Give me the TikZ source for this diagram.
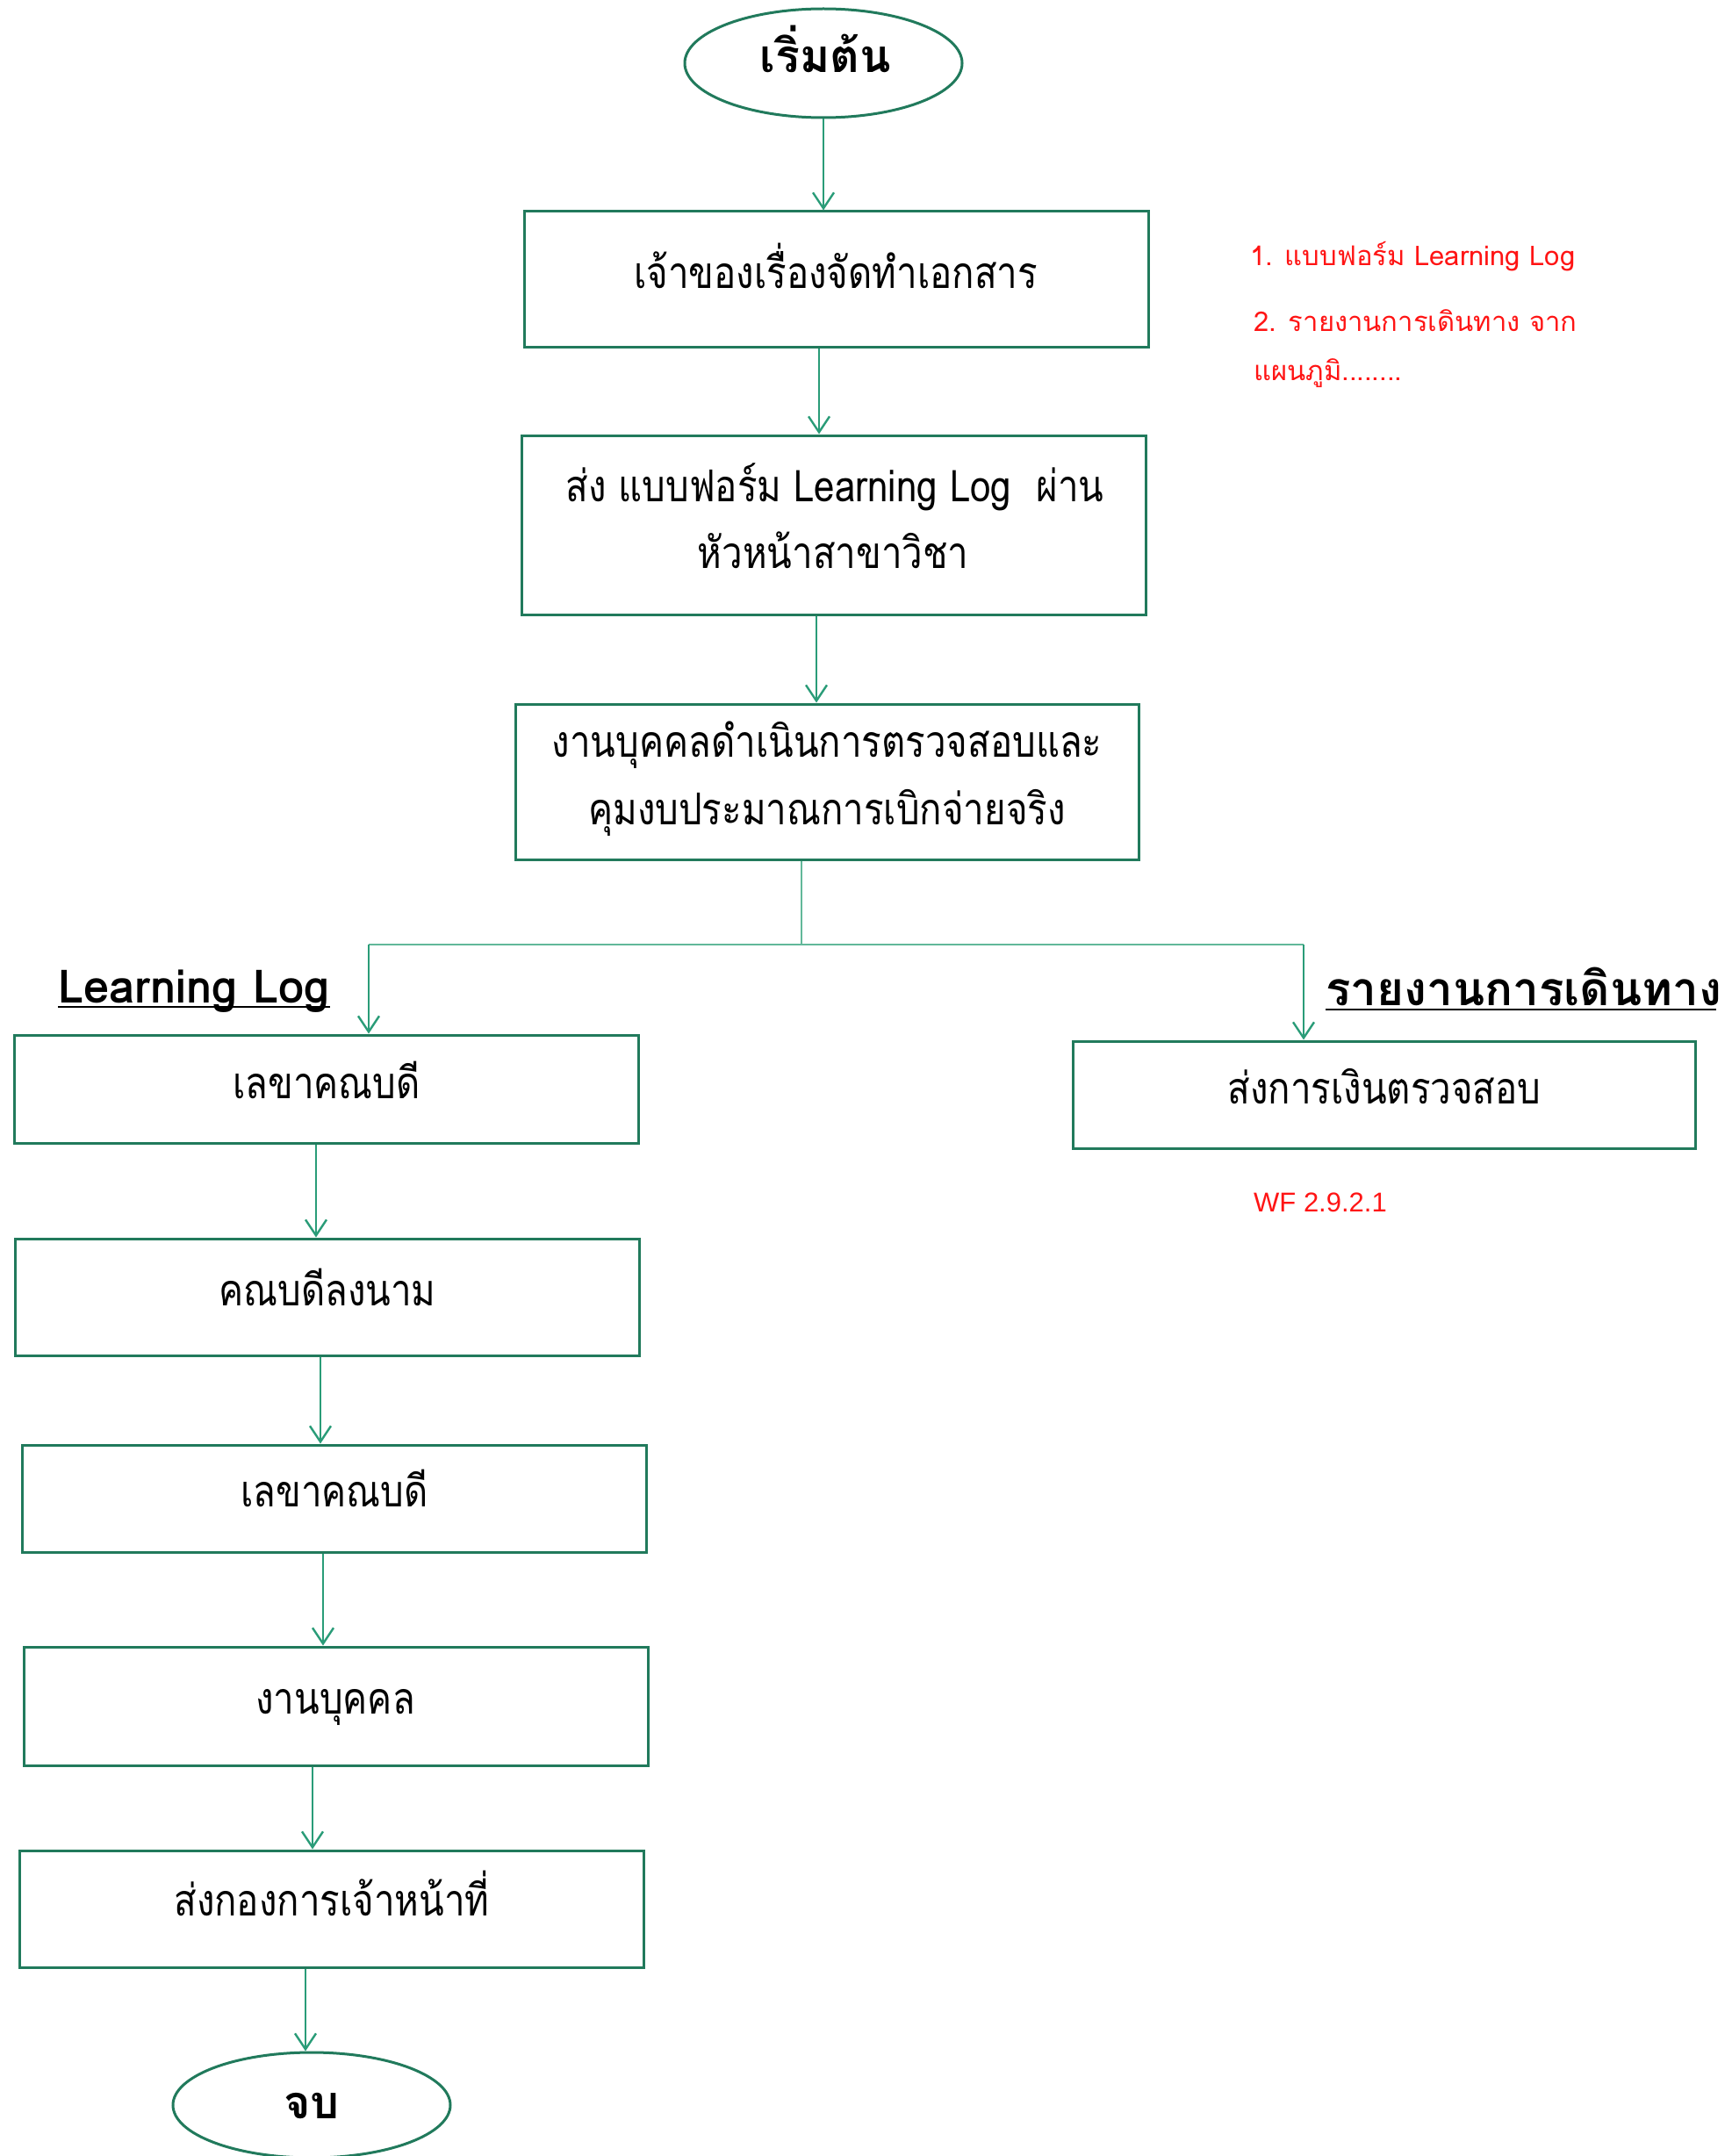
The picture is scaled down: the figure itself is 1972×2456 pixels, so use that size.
\documentclass[tikz,border=0pt]{standalone}
\usepackage{fontspec}
\usetikzlibrary{arrows.meta,shapes.geometric}
\newfontfamily\thaifont[Script=Thai,FakeStretch=0.84]{Loma}
\newfontfamily\thaiwide[Script=Thai]{Loma}
\newfontfamily\latinf{Liberation Sans}
\definecolor{boxc}{HTML}{217A5C}
\definecolor{arrc}{HTML}{2A9C78}
\definecolor{linec}{HTML}{62B89A}
\definecolor{notered}{HTML}{FF1414}
\tikzset{
  box/.style={draw=boxc, line width=3pt, minimum width=711pt, inner sep=0pt},
  boxtext/.style={anchor=base, inner sep=0pt, font=\thaifont\fontsize{50}{60}\selectfont},
  term/.style={ellipse, draw=boxc, line width=3pt, minimum width=316pt, minimum height=124pt, inner sep=0pt},
  termtext/.style={anchor=base, inner sep=0pt, font=\thaiwide\bfseries\fontsize{52}{60}\selectfont},
  arr/.style={draw=arrc, line width=2.4pt, -{Straight Barb[length=18pt,width=24pt,line width=2.4pt]}},
  joinline/.style={draw=linec, line width=1.8pt},
  note/.style={anchor=base west, inner sep=0pt, text=notered, font=\thaiwide\fontsize{31}{40}\selectfont},
  head/.style={anchor=base west, inner sep=0pt, text=black},
  uline/.style={draw=black, line width=2.6pt}
}
\begin{document}
\begin{tikzpicture}[x=1pt,y=-1pt]
\useasboundingbox (0,0) rectangle (1972,2456);
% main column
\node[term] (start) at (938,72) {};
\node[termtext] (startt) at (940,83) {เริ่มต้น};
\node[box, minimum height=154pt] (b1) at (952.5,318) {};
\node[boxtext] (b1t) at (952,328) {เจ้าของเรื่องจัดทำเอกสาร};
\node[box, minimum height=204pt] (b2) at (949.5,598) {};
\node[boxtext] (b2t) at (951,571) {ส่ง แบบฟอร์ม Learning Log\ \ ผ่าน};
\node[boxtext] (b2u) at (949,647) {หัวหน้าสาขาวิชา};
\node[box, minimum height=177pt, minimum width=710pt] (b3) at (942,890.5) {};
\node[boxtext] (b3t) at (942,862) {งานบุคคลดำเนินการตรวจสอบและ};
\node[boxtext] (b3u) at (942,939) {คุมงบประมาณการเบิกจ่ายจริง};
% left column
\node[box, minimum height=123pt] (l1) at (371.5,1240.5) {};
\node[boxtext] (l1t) at (372,1251) {เลขาคณบดี};
\node[box, minimum height=133pt] (l2) at (372.5,1477.5) {};
\node[boxtext] (l2t) at (373,1487) {คณบดีลงนาม};
\node[box, minimum height=122pt] (l3) at (380.5,1707) {};
\node[boxtext] (l3t) at (381,1716) {เลขาคณบดี};
\node[box, minimum height=135pt] (l4) at (382.5,1943.5) {};
\node[boxtext] (l4t) at (382,1952) {งานบุคคล};
\node[box, minimum height=133pt] (l5) at (377.5,2174.5) {};
\node[boxtext] (l5t) at (378,2182) {ส่งกองการเจ้าหน้าที่};
\node[term, minimum height=120pt] (end) at (355,2398) {};
\node[termtext] (endt) at (355,2413) {จบ};
% right column
\node[box, minimum height=122pt, minimum width=709pt] (r1) at (1576.5,1247) {};
\node[boxtext] (r1t) at (1577,1257) {ส่งการเงินตรวจสอบ};
% headings
\node[head, font=\thaiwide\bfseries\fontsize{52.5}{58}\selectfont] (hl) at (66,1142) {Learning Log};
\draw[uline] (hl.base west) ++(0,5) -- ++(310,0);
\node[head, font=\thaiwide\bfseries\fontsize{53}{60}\selectfont] (hr) at (1510,1145) {รายงานการเดินทาง};
\draw[uline] (hr.base west) ++(0,5) -- ++(445,0);
% notes
\node[note] (n1) at (1424,302) {1. แบบฟอร์ม Learning Log};
\node[note] (n2) at (1428,377) {2. รายงานการเดินทาง จาก};
\node[note] (n3) at (1428,433) {แผนภูมิ........};
\node[anchor=base west, inner sep=0pt, text=notered, font=\latinf\fontsize{31}{36}\selectfont] (wf) at (1428,1380) {WF 2.9.2.1};
% connectors
\draw[arr] (start.south -| 938,0) -- (938,0 |- b1.north);
\draw[arr] (b1.south -| 933,0) -- (933,0 |- b2.north);
\draw[arr] (b2.south -| 930,0) -- (930,0 |- b3.north);
\coordinate (j) at (913,1076);
\coordinate (jl) at (420,1076);
\coordinate (jr) at (1485,1076);
\draw[joinline] (b3.south -| j) -- (j);
\draw[joinline] (jl) -- (jr);
\draw[arr] (jl) -- (jl |- l1.north);
\draw[arr] (jr) -- (jr |- r1.north);
\draw[arr] (l1.south -| 360,0) -- (360,0 |- l2.north);
\draw[arr] (l2.south -| 365,0) -- (365,0 |- l3.north);
\draw[arr] (l3.south -| 368,0) -- (368,0 |- l4.north);
\draw[arr] (l4.south -| 356,0) -- (356,0 |- l5.north);
\draw[arr] (l5.south -| 348,0) -- (348,0 |- end.north);
\end{tikzpicture}
\end{document}
